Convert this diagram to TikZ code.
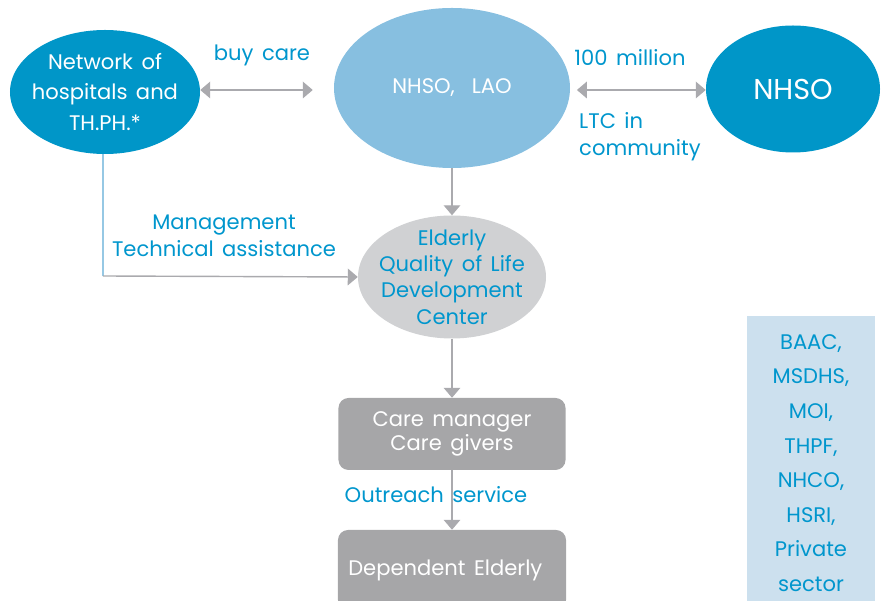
\documentclass[tikz,border=0pt]{standalone}
\usepackage{fontspec}
\setmainfont{Poppins}[WordSpace=1.5]
\usetikzlibrary{shapes.geometric,arrows.meta}
\definecolor{netblue}{RGB}{0,150,200}
\definecolor{paleblue}{RGB}{135,191,224}
\definecolor{ovalgray}{RGB}{208,209,211}
\definecolor{boxgray}{RGB}{166,166,168}
\definecolor{linegray}{RGB}{170,170,174}
\definecolor{txtblue}{RGB}{0,150,205}
\definecolor{sideblue}{RGB}{204,224,238}
\definecolor{thinblue}{RGB}{150,200,228}
\tikzset{
  oval/.style={ellipse, inner sep=-0.3cm, align=center, text=white,
    font=\fontsize{18}{26}\selectfont},
  rbox/.style={rectangle, rounded corners=0.3cm, inner sep=0pt, fill=boxgray,
    text=white, align=center, font=\fontsize{18}{21}\selectfont},
  lbl/.style={text=txtblue, align=center, inner sep=0pt,
    font=\fontsize{18}{23}\selectfont},
  link/.style={draw=linegray, line width=1.2pt,
    -{Triangle[length=0.3cm,width=0.5cm]}},
  twoway/.style={link, {Triangle[length=0.3cm,width=0.5cm]}-{Triangle[length=0.3cm,width=0.5cm]}}
}
\begin{document}
\begin{tikzpicture}[x=0.03cm, y=-0.03cm]
\useasboundingbox (0,0) rectangle (882,601);

\node[oval, fill=netblue, minimum width=5.7cm, minimum height=3.72cm] (net) at (105,92)
  {Network of\\hospitals and\\TH.PH.*};
\node[oval, fill=paleblue, minimum width=7.08cm, minimum height=4.8cm] (nhsolao) at (452,88)
  {NHSO,\ \ LAO};
\node[oval, fill=netblue, minimum width=5.22cm, minimum height=3.81cm,
  font=\fontsize{24.5}{26}\selectfont] (nhso) at (793,89) {NHSO};
\node[oval, fill=ovalgray, text=txtblue, minimum width=5.64cm, minimum height=3.69cm,
  font=\fontsize{18}{22.5}\selectfont] (elderly) at (452,277)
  {Elderly\\Quality of Life\\Development\\Center};
\node[rbox, minimum width=6.81cm, minimum height=2.16cm] (care) at (452,434)
  {Care manager\\Care givers};
\node[rbox, minimum width=6.84cm, minimum height=2.4cm] (dep) at (452,570)
  {Dependent Elderly\hspace*{0.4cm}};
\node[rectangle, fill=sideblue, text=txtblue, align=center, inner sep=0pt,
  minimum width=3.84cm, minimum height=8.79cm,
  font=\fontsize{18}{29.5}\selectfont] (side) at (811,463)
  {BAAC,\\MSDHS,\\MOI,\\THPF,\\NHCO,\\HSRI,\\Private\\sector};

\node[lbl] (buy) at (262,55) {buy care};
\node[lbl] (money) at (630,58) {100 million};
\node[lbl, anchor=west, align=left] (ltc) at (579,137) {LTC in\\community};
\node[lbl] (manage) at (224,236) {Management\\Technical assistance};
\node[lbl] (outreach) at (436,495) {Outreach service};

\draw[twoway, shorten >=0.63cm] (net.east |- 0,90) -- (nhsolao.west |- 0,90);
\draw[twoway, shorten <=0.2cm] (nhsolao.east |- 0,90) -- (nhso.west |- 0,90);
\draw[link] (nhsolao.south) -- (elderly.north);
\coordinate (bend) at (103,276);
\draw[draw=thinblue, line width=1.2pt] (net.south -| bend) -- (bend);
\draw[link] (bend) -- (elderly.west);
\draw[link] (elderly.south) -- (care.north);
\draw[link] (care.south) -- (dep.north);
\end{tikzpicture}
\end{document}
